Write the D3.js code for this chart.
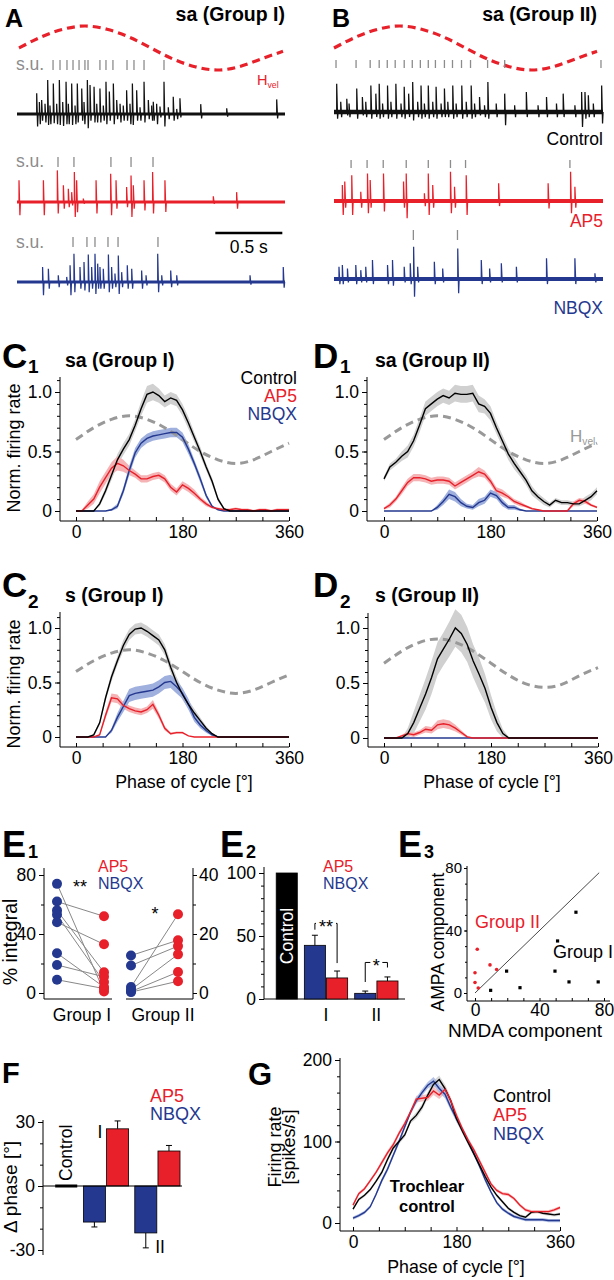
<!DOCTYPE html>
<html><head><meta charset="utf-8">
<script src="https://cdn.jsdelivr.net/npm/d3@7"></script>
<style>
body{margin:0;background:#fff}
svg{display:block}
</style></head><body>
<svg id="fig" width="614" height="1280" font-family="Liberation Sans, Arial, Helvetica, sans-serif"></svg>
<script>
// ================= DATA =================
const phase10 = d3.range(0, 361, 10);
const phase30 = d3.range(0, 361, 30);
const hvel   = [0.6,0.7,0.77,0.8,0.77,0.7,0.6,0.5,0.43,0.4,0.43,0.5,0.57];
const hvelD2 = [0.68,0.79,0.87,0.9,0.87,0.79,0.68,0.57,0.49,0.46,0.49,0.57,0.64];

// Panel A traces (time in s, amplitudes normalised)
const aCtlT  = [0.147,0.184,0.229,0.271,0.316,0.366,0.408,0.45,0.483,0.525,0.545,0.575,0.619,0.664,0.689,0.719,0.744,0.818,0.861,0.893,0.948,0.98,1.017,1.067,1.097,1.166,1.216,1.371,1.565,1.938,0.167,0.209,0.246,0.296,0.341,0.383,0.433,0.5,0.595,0.644,0.769,0.793,0.843,0.918,1.005,1.042,1.129,1.192];
const aCtlUp = [0.61,0.41,1.0,0.9,1.0,0.95,0.9,0.9,0.75,1.0,0.85,0.8,0.75,0.95,0.66,0.9,0.41,0.7,0.9,0.7,0.95,0.41,0.36,0.22,0.95,0.51,0.46,0.29,0.17,0.43,0.35,0.3,0.25,0.3,0.35,0.3,0.25,0.35,0.3,0.25,0.3,0.25,0.3,0.2,0.25,0.3,0.2,0.15];
const aCtlDn = [0.37,0.2,0.32,0.27,0.32,0.3,0.32,0.25,0.2,0.42,0.2,0.25,0.25,0.3,0.2,0.3,0.15,0.2,0.32,0.2,0.25,0.15,0.2,0.1,0.37,0.2,0.1,0.13,0.08,0.13,0.3,0.25,0.3,0.3,0.35,0.3,0.3,0.3,0.25,0.2,0.25,0.2,0.3,0.2,0.2,0.3,0.15,0.15];
const aAp5T  = [0.015,0.197,0.301,0.346,0.383,0.408,0.428,0.445,0.495,0.59,0.699,0.739,0.818,0.851,0.868,0.948,1.012,1.104,1.465,1.639];
const aAp5Up = [0.64,0.64,0.93,0.49,0.39,0.29,0.88,0.64,0.1,0.64,0.83,0.64,0.44,0.78,0.49,0.64,0.88,0.64,0.17,0.29];
const aAp5Dn = [0.39,0.39,0.34,0.2,0.15,0.1,0.44,0.3,0.05,0.34,0.39,0.2,0.15,0.44,0.2,0.25,0.34,0.29,0.05,0.2];
const aNbqT  = [0.191,0.234,0.308,0.371,0.396,0.425,0.47,0.5,0.532,0.557,0.582,0.602,0.619,0.644,0.682,0.706,0.731,0.756,0.781,0.823,0.856,0.93,0.963,1.05,1.08,1.147,1.192,1.739,1.987];
const aNbqUp = [0.44,0.39,0.2,0.15,0.49,0.83,0.44,0.59,0.81,0.44,0.83,0.54,0.44,0.39,0.81,0.44,0.25,0.78,0.29,0.49,0.39,0.34,0.2,0.83,0.2,0.34,0.2,0.2,0.44];
const aNbqDn = [0.39,0.2,0.15,0.1,0.39,0.3,0.2,0.25,0.3,0.2,0.35,0.2,0.2,0.2,0.3,0.2,0.15,0.35,0.15,0.2,0.2,0.2,0.1,0.3,0.1,0.15,0.1,0.08,0.17];
const aCtlSU = [0.269,0.321,0.373,0.418,0.463,0.507,0.530,0.619,0.664,0.716,0.821,0.873,0.948,1.097];
const aAp5SU = [0.306,0.425,0.701,0.851,1.015];
const aNbqSU = [0.418,0.522,0.582,0.679,0.754,1.052];

// Panel B traces
const bCtlT  = [0.02,0.095,0.169,0.211,0.274,0.311,0.336,0.398,0.46,0.522,0.555,0.585,0.647,0.701,0.759,0.821,0.883,0.95,1.02,1.082,1.144,1.269,1.43,1.58,1.704,1.841,1.866,1.891,1.99,0.05,0.112,0.236,0.361,0.423,0.498,0.622,0.672,0.734,0.796,0.846,0.908,0.983,1.045,1.119,1.206,1.343,1.517,1.654,1.791,1.928];
const bCtlUp = [0.83,0.39,0.69,0.44,0.78,0.54,0.83,0.78,0.83,0.74,0.54,0.88,0.78,0.78,0.74,0.69,0.78,0.78,0.78,0.44,0.88,0.54,0.59,0.44,0.54,0.59,0.59,0.49,0.78,0.3,0.25,0.3,0.25,0.3,0.25,0.3,0.25,0.3,0.25,0.3,0.25,0.3,0.25,0.2,0.25,0.2,0.2,0.25,0.2,0.25];
const bCtlDn = [0.2,0.1,0.2,0.1,0.2,0.15,0.2,0.2,0.2,0.2,0.15,0.25,0.2,0.2,0.2,0.15,0.2,0.2,0.2,0.1,0.2,0.39,0.15,0.15,0.15,0.44,0.2,0.15,0.34,0.15,0.15,0.15,0.15,0.15,0.15,0.15,0.15,0.15,0.15,0.15,0.15,0.15,0.15,0.15,0.15,0.15,0.15,0.15,0.15,0.15];
const bAp5T  = [0.062,0.08,0.132,0.199,0.249,0.269,0.368,0.517,0.537,0.672,0.701,0.734,0.866,0.896,0.983,1.224,1.592,1.759,1.791];
const bAp5Up = [0.47,0.57,0.76,0.27,0.81,0.62,0.81,0.57,0.81,0.23,0.81,0.47,0.86,0.42,0.76,0.52,0.52,0.86,0.42];
const bAp5Dn = [0.41,0.2,0.41,0.2,0.36,0.2,0.31,0.2,0.51,0.15,0.41,0.2,0.36,0.2,0.41,0.15,0.22,0.36,0.2];
const bNbqT  = [0.037,0.062,0.1,0.162,0.199,0.236,0.286,0.398,0.435,0.522,0.567,0.592,0.622,0.746,0.808,0.92,1.095,1.157,1.244,1.356,1.58,1.791,1.94];
const bNbqUp = [0.36,0.41,0.31,0.41,0.26,0.36,0.56,0.41,0.56,0.36,0.46,0.95,0.36,0.51,0.31,0.9,0.56,0.31,0.46,0.36,0.61,0.61,0.17];
const bNbqDn = [0.15,0.15,0.1,0.15,0.1,0.1,0.15,0.15,0.2,0.1,0.15,0.52,0.1,0.15,0.1,0.42,0.15,0.1,0.1,0.1,0.15,0.15,0.1];
const bCtlSU = [0.015,0.164,0.269,0.336,0.396,0.455,0.522,0.582,0.642,0.701,0.754,0.821,0.881,0.948,1.015,1.142,1.269,1.985];
const bAp5SU = [0.127,0.246,0.366,0.537,0.701,0.866,0.978,1.754];
const bNbqSU = [0.590,0.918];

// C1 sa (Group I) – normalised firing rate vs phase (0..360 step 10)
const c1Ctl    = [0,0,0,0,0.06,0.17,0.3,0.43,0.52,0.6,0.72,0.86,0.98,1.0,0.97,0.92,0.95,0.93,0.85,0.74,0.62,0.5,0.37,0.25,0.1,0.02,0,0,0,0,0,0,0,0,0,0,0];
const c1CtlSem = [0,0,0,0,0.02,0.03,0.04,0.05,0.05,0.05,0.05,0.06,0.07,0.07,0.06,0.05,0.05,0.05,0.05,0.05,0.04,0.04,0.03,0.03,0.02,0.01,0,0,0,0,0,0,0,0,0,0,0];
const c1Ap5    = [0,0,0.05,0.1,0.2,0.28,0.36,0.4,0.38,0.34,0.31,0.27,0.27,0.29,0.3,0.27,0.2,0.16,0.22,0.19,0.15,0.1,0.06,0.03,0.02,0.01,0.01,0.02,0.01,0.01,0,0.01,0.01,0,0.01,0.01,0.01];
const c1Ap5Sem = [0,0.01,0.03,0.04,0.05,0.05,0.05,0.06,0.05,0.04,0.03,0.03,0.03,0.03,0.03,0.03,0.03,0.03,0.03,0.03,0.03,0.02,0.02,0.01,0.01,0.01,0.01,0.01,0.01,0.01,0.01,0.01,0.01,0.01,0.01,0.01,0.01];
const c1Nbq    = [0,0,0,0,0,0,0.01,0.04,0.17,0.34,0.49,0.57,0.61,0.63,0.64,0.65,0.66,0.66,0.62,0.52,0.4,0.27,0.13,0.04,0.01,0,0,0,0,0,0,0,0,0,0,0,0];
const c1NbqSem = [0,0,0,0,0,0,0.01,0.02,0.03,0.04,0.04,0.04,0.04,0.04,0.04,0.04,0.04,0.04,0.04,0.04,0.03,0.03,0.02,0.01,0,0,0,0,0,0,0,0,0,0,0,0,0];
// D1 sa (Group II)
const d1Ctl    = [0.27,0.37,0.41,0.46,0.5,0.59,0.72,0.86,0.9,0.94,0.97,0.95,0.99,0.98,0.98,0.99,0.9,0.88,0.82,0.7,0.59,0.48,0.4,0.33,0.26,0.17,0.12,0.08,0.05,0.09,0.07,0.07,0.06,0.06,0.09,0.12,0.17];
const d1CtlSem = [0.02,0.03,0.03,0.04,0.05,0.05,0.06,0.06,0.06,0.06,0.06,0.06,0.07,0.07,0.07,0.07,0.07,0.06,0.06,0.05,0.05,0.05,0.05,0.04,0.04,0.04,0.03,0.03,0.02,0.02,0.02,0.02,0.02,0.02,0.03,0.03,0.03];
const d1Ap5    = [0.02,0.05,0.1,0.17,0.24,0.28,0.28,0.27,0.25,0.26,0.26,0.25,0.21,0.24,0.27,0.3,0.33,0.31,0.25,0.17,0.15,0.12,0.08,0.06,0.04,0.02,0.01,0,0,0,0,0,0.06,0.09,0.08,0.05,0.03];
const d1Ap5Sem = [0.01,0.02,0.02,0.03,0.03,0.03,0.03,0.03,0.03,0.03,0.03,0.03,0.03,0.03,0.03,0.03,0.04,0.03,0.03,0.03,0.03,0.02,0.02,0.02,0.01,0.01,0,0,0,0,0,0.01,0.02,0.02,0.02,0.01,0.01];
const d1Nbq    = [0,0,0,0,0,0,0,0,0,0.03,0.08,0.14,0.12,0.07,0.04,0.03,0.07,0.09,0.15,0.13,0.07,0.03,0.03,0.01,0,0,0,0,0,0,0,0,0,0,0,0,0];
const d1NbqSem = [0,0,0,0,0,0,0,0,0,0.02,0.03,0.04,0.04,0.03,0.02,0.02,0.03,0.03,0.03,0.03,0.03,0.02,0.02,0.01,0,0,0,0,0,0,0,0,0,0,0,0,0];
// C2 s (Group I)
const c2Ctl    = [0,0,0,0.02,0.13,0.36,0.55,0.7,0.84,0.94,0.99,1.0,0.97,0.93,0.89,0.8,0.64,0.5,0.39,0.3,0.22,0.15,0.08,0.03,0,0,0,0,0,0,0,0,0,0,0,0,0];
const c2CtlSem = [0,0,0,0.01,0.02,0.03,0.04,0.04,0.05,0.05,0.05,0.05,0.05,0.05,0.05,0.05,0.05,0.05,0.05,0.04,0.04,0.03,0.02,0.01,0,0,0,0,0,0,0,0,0,0,0,0,0];
const c2Ap5    = [0,0,0,0,0.02,0.2,0.36,0.35,0.29,0.26,0.24,0.23,0.25,0.3,0.2,0.08,0.03,0.04,0.04,0.01,0,0,0,0,0,0,0,0,0,0,0,0,0,0,0,0,0];
const c2Ap5Sem = [0,0,0,0,0.01,0.03,0.04,0.04,0.03,0.03,0.03,0.03,0.03,0.04,0.03,0.02,0.01,0.01,0.01,0,0,0,0,0,0,0,0,0,0,0,0,0,0,0,0,0,0];
const c2Nbq    = [0,0,0,0,0,0,0.06,0.18,0.28,0.38,0.4,0.41,0.42,0.43,0.46,0.5,0.51,0.46,0.4,0.3,0.18,0.11,0.06,0.02,0,0,0,0,0,0,0,0,0,0,0,0,0];
const c2NbqSem = [0,0,0,0,0,0,0.02,0.04,0.05,0.06,0.06,0.06,0.06,0.06,0.06,0.06,0.06,0.06,0.05,0.05,0.04,0.03,0.02,0.01,0,0,0,0,0,0,0,0,0,0,0,0,0];
// D2 s (Group II)
const d2Ctl    = [0,0,0,0,0.04,0.14,0.27,0.4,0.55,0.72,0.81,0.9,1.0,0.95,0.85,0.7,0.58,0.45,0.28,0.14,0.04,0,0,0,0,0,0,0,0,0,0,0,0,0,0,0,0];
const d2CtlSem = [0,0,0,0,0.05,0.1,0.12,0.14,0.15,0.15,0.15,0.16,0.17,0.17,0.16,0.15,0.15,0.13,0.11,0.08,0.04,0.01,0,0,0,0,0,0,0,0,0,0,0,0,0,0,0];
const d2Ap5    = [0,0,0,0.02,0.04,0.03,0.05,0.08,0.07,0.12,0.13,0.12,0.09,0.05,0.01,0,0,0,0,0,0,0,0,0,0,0,0,0,0,0,0,0,0,0,0,0,0];
const d2Ap5Sem = [0,0,0,0.01,0.02,0.02,0.02,0.03,0.03,0.04,0.04,0.04,0.03,0.02,0.01,0,0,0,0,0,0,0,0,0,0,0,0,0,0,0,0,0,0,0,0,0,0];
const d2Nbq    = [0,0,0,0,0,0,0,0,0,0,0,0,0,0,0,0,0,0,0,0,0,0,0,0,0,0,0,0,0,0,0,0,0,0,0,0,0];
const d2NbqSem = [0,0,0,0,0,0,0,0,0,0,0,0,0,0,0,0,0,0,0,0,0,0,0,0,0,0,0,0,0,0,0,0,0,0,0,0,0];

// E1 % integral, paired
const e1G1Nbqx = [74,62,56,53,48,27,19,9];
const e1G1Ap5  = [1,52,14,7.5,33,4,11,3];
const e1G2Nbqx = [12.7,9.3,2.0,1.1,0.5,0.3];
const e1G2Ap5  = [17.9,15.9,26.7,13.1,7.1,4.0];
// E2 mean % integral
const e2Groups  = ["Control","I","II"];
const e2Control = 100;
const e2Nbqx    = [42.6, 4.5];
const e2NbqxErr = [8, 1.8];
const e2Ap5     = [16.7, 14.3];
const e2Ap5Err  = [5.5, 3.2];
// E3 scatter
const e3G2Nmda = [1.4,0,0,2,9.3,13.4];
const e3G2Ampa = [28,13,6.7,3.2,18,15];
const e3G1Nmda = [62.6,51.2,19.6,9.7,27.9,49.6,58.3,76.4];
const e3G1Ampa = [51.7,33.3,14,1.7,3.4,14,7.1,7.1];
// F delta phase
const fGroups  = ["Control","I","II"];
const fControl = 0;
const fNbqx    = [-16.9, -22];
const fNbqxErr = [2.3, 7];
const fAp5     = [26.8, 16.4];
const fAp5Err  = [3.7, 2.6];
// G trochlear firing rate (spikes/s)
const gCtl = [17,29,34,41,51,62,78,92,100,108,125,132,142,157,170,176,165,150,128,113,99,85,71,57,44,34,26,18,13,9,7,13,14,12,11,10,11];
const gAp5 = [22,36,42,52,62,74,86,96,110,122,136,152,153,154,162,157,164,150,132,116,102,90,76,62,48,40,36,35,30,22,16,14,14,14,14,16,19];
const gNbq = [6,9,13,20,35,52,66,83,100,118,136,150,160,169,174,165,158,142,128,115,101,86,70,53,38,25,17,12,8,6,4,4,4,4,3,3,3];
const gSem = [2,2,2,2,2,3,3,3,3,3,3,4,4,4,5,5,5,4,4,3,3,3,3,3,2,2,2,2,2,2,2,2,2,2,2,2,2];

// ================= DRAWING =================
const RED = "#e8202a", BLUE = "#24388f", SUGRAY = "#8c8c8c";
const TICKFS = 17.5;
const svg = d3.select("#fig");

function T(x, y, s, fs, o = {}) {
  return svg.append("text").attr("x", x).attr("y", y).attr("font-size", fs)
    .attr("fill", o.fill || "#000").attr("font-weight", o.bold ? "bold" : "normal")
    .attr("text-anchor", o.anchor || "start").text(s);
}
function TR(x, y, s, fs, o = {}) {
  return svg.append("text").attr("transform", `translate(${x},${y}) rotate(-90)`)
    .attr("font-size", fs).attr("fill", o.fill || "#000").attr("text-anchor", "middle")
    .attr("font-weight", o.bold ? "bold" : "normal").text(s);
}
function HV(x, y, fs, fill) {
  const t = svg.append("text").attr("x", x).attr("y", y).attr("font-size", fs).attr("fill", fill);
  t.append("tspan").text("H");
  t.append("tspan").attr("font-size", fs * 0.6).attr("dy", fs * 0.18).text("vel");
}
function L(x1, y1, x2, y2, c = "#000", w = 1) {
  return svg.append("line").attr("x1", x1).attr("y1", y1).attr("x2", x2).attr("y2", y2)
    .attr("stroke", c).attr("stroke-width", w);
}
function styleAx(g, fs) {
  g.attr("font-family", null).attr("font-size", fs);
  g.select(".domain").remove();
  g.selectAll("line").attr("stroke", "#000");
  g.selectAll("text").attr("fill", "#000");
}
function axisY(scale, x, majors, minors, fmt, fs, right = false, majLen = 5, minLen = 3, pad = 3) {
  const A = right ? d3.axisRight : d3.axisLeft;
  const g1 = svg.append("g").attr("transform", `translate(${x},0)`)
    .call(A(scale).tickValues(minors).tickSize(minLen).tickFormat(""));
  const g2 = svg.append("g").attr("transform", `translate(${x},0)`)
    .call(A(scale).tickValues(majors).tickSize(majLen).tickPadding(pad).tickFormat(fmt));
  styleAx(g1, fs); styleAx(g2, fs);
  return g2;
}
function axisX(scale, y, ticks, labels, fs, len = 4, pad = 5) {
  const g = svg.append("g").attr("transform", `translate(0,${y})`)
    .call(d3.axisBottom(scale).tickValues(ticks).tickSize(-len).tickPadding(pad)
      .tickFormat(d => labels.includes(d) ? String(d) : ""));
  styleAx(g, fs);
  return g;
}

// ---------- A / B traces ----------
const xA = d3.scaleLinear().domain([0, 2]).range([17, 285]);
const xB = d3.scaleLinear().domain([0, 2]).range([334, 603]);
const pA = d3.scaleLinear().domain([0, 360]).range([19, 283]);
const pB = d3.scaleLinear().domain([0, 360]).range([334, 597]);
const hY = d3.scaleLinear().domain([0.4, 0.8]).range([70, 26]);

function sinus(px) {
  svg.append("path").datum(hvel)
    .attr("d", d3.line().x((d, i) => px(phase30[i])).y(d => hY(d)).curve(d3.curveNatural))
    .attr("fill", "none").attr("stroke", RED).attr("stroke-width", 3.2).attr("stroke-dasharray", "8,5");
}
function trace(xs, base, ts, up, dn, color, bw) {
  const y = d3.scaleLinear().domain([0, 1]).range([base, base - 34]);
  L(xs.range()[0], base, xs.range()[1], base, color, bw);
  svg.append("g").selectAll("path").data(ts).join("path")
    .attr("d", (t, i) => `M${xs(t)},${y(0)}L${xs(t)},${y(up[i])}L${xs(t) + 0.9},${y(-dn[i])}L${xs(t) + 1.4},${y(0)}`)
    .attr("fill", "none").attr("stroke", color).attr("stroke-width", 1.25);
}
function suTicks(xs, ts, y1, y2) {
  svg.append("g").selectAll("line").data(ts).join("line")
    .attr("x1", d => xs(d)).attr("x2", d => xs(d)).attr("y1", y1).attr("y2", y2)
    .attr("stroke", SUGRAY).attr("stroke-width", 1.3);
}
// A
T(5, 27, "A", 25, { bold: true });
T(285, 21, "sa (Group I)", 19.5, { bold: true, anchor: "end" });
sinus(pA);
HV(257, 85, 14.5, RED);
T(16, 70, "s.u.", 17.5, { fill: SUGRAY });
suTicks(xA, aCtlSU, 60, 70);
trace(xA, 114, aCtlT, aCtlUp, aCtlDn, "#111", 3);
T(16, 167, "s.u.", 17.5, { fill: SUGRAY });
suTicks(xA, aAp5SU, 157, 167);
trace(xA, 202, aAp5T, aAp5Up, aAp5Dn, RED, 3);
T(16, 248, "s.u.", 17.5, { fill: SUGRAY });
suTicks(xA, aNbqSU, 237, 247);
trace(xA, 282, aNbqT, aNbqUp, aNbqDn, BLUE, 3);
L(xA(1.48), 233, xA(1.98), 233, "#000", 2.5);
T(xA(1.73), 253, "0.5 s", 17.5, { anchor: "middle" });
// B
T(332, 27, "B", 25, { bold: true });
T(597, 21, "sa (Group II)", 19.5, { bold: true, anchor: "end" });
sinus(pB);
suTicks(xB, bCtlSU, 60, 68);
trace(xB, 112, bCtlT, bCtlUp, bCtlDn, "#111", 4.5);
T(603, 145, "Control", 17.5, { anchor: "end" });
suTicks(xB, bAp5SU, 160, 168);
trace(xB, 201, bAp5T, bAp5Up, bAp5Dn, RED, 4);
T(603, 227, "AP5", 17.5, { anchor: "end", fill: RED });
suTicks(xB, bNbqSU, 230, 240);
trace(xB, 279, bNbqT, bNbqUp, bNbqDn, BLUE, 4);
T(603, 314, "NBQX", 17.5, { anchor: "end", fill: BLUE });

// ---------- C/D rate panels ----------
function ratePanel(p) {
  const x = d3.scaleLinear().domain([0, 360]).range(p.xr);
  const y = d3.scaleLinear().domain([0, 1]).range([p.y0, p.y1]);
  const g = svg.append("g");
  p.series.forEach(s => {
    g.append("path").datum(s.v)
      .attr("d", d3.area().x((d, i) => x(phase10[i]))
        .y0((d, i) => y(Math.max(0, d - s.sem[i]))).y1((d, i) => y(d + s.sem[i])))
      .attr("fill", s.band);
  });
  g.append("path").datum(p.hv)
    .attr("d", d3.line().x((d, i) => x(phase30[i])).y(d => y(d)).curve(d3.curveNatural))
    .attr("fill", "none").attr("stroke", "#999").attr("stroke-width", 3).attr("stroke-dasharray", "8,5");
  p.series.slice().reverse().forEach(s => {
    g.append("path").datum(s.v)
      .attr("d", d3.line().x((d, i) => x(phase10[i])).y(d => y(d)))
      .attr("fill", "none").attr("stroke", s.c).attr("stroke-width", 1.4);
  });
  L(p.ax, p.axB, p.ax, p.axT);
  L(p.ax, p.axB, p.xr[1], p.axB);
  axisY(y, p.ax, [0, 0.5, 1], d3.range(0, 1.101, 0.1), d => d === 0 ? "0" : d3.format(".1f")(d), TICKFS);
  axisX(x, p.axB, d3.range(0, 361, 45), [0, 180, 360], TICKFS);
}
const ctlBand = "#d0d0d0", ap5Band = "#f5b3b5", nbqBand = "#9fb0de";
function ser(v, sem, c, band) { return { v, sem, c, band }; }

ratePanel({ xr: [76, 289], y0: 511, y1: 392, ax: 60, axB: 521, axT: 377, hv: hvel,
  series: [ser(c1Ctl, c1CtlSem, "#000", ctlBand), ser(c1Ap5, c1Ap5Sem, RED, ap5Band), ser(c1Nbq, c1NbqSem, BLUE, nbqBand)] });
ratePanel({ xr: [384, 597], y0: 511, y1: 392, ax: 367, axB: 521, axT: 377, hv: hvel,
  series: [ser(d1Ctl, d1CtlSem, "#000", ctlBand), ser(d1Ap5, d1Ap5Sem, RED, ap5Band), ser(d1Nbq, d1NbqSem, BLUE, nbqBand)] });
ratePanel({ xr: [76, 289], y0: 737, y1: 628, ax: 60, axB: 747, axT: 612, hv: hvel,
  series: [ser(c2Ctl, c2CtlSem, "#000", ctlBand), ser(c2Ap5, c2Ap5Sem, RED, ap5Band), ser(c2Nbq, c2NbqSem, BLUE, nbqBand)] });
ratePanel({ xr: [384, 598], y0: 738, y1: 628, ax: 368, axB: 747, axT: 613, hv: hvelD2,
  series: [ser(d2Ctl, d2CtlSem, "#000", ctlBand), ser(d2Ap5, d2Ap5Sem, RED, ap5Band), ser(d2Nbq, d2NbqSem, BLUE, nbqBand)] });

T(2, 368, "C", 35, { bold: true }); T(28, 373, "1", 19, { bold: true });
T(65, 367, "sa (Group I)", 19.5, { bold: true });
T(297, 384, "Control", 17.5, { anchor: "end" });
T(297, 402, "AP5", 17.5, { anchor: "end", fill: RED });
T(297, 420, "NBQX", 17.5, { anchor: "end", fill: BLUE });
TR(20, 448, "Norm. firing rate", 18);
T(313, 368, "D", 35, { bold: true }); T(340, 373, "1", 19, { bold: true });
T(375, 367, "sa (Group II)", 19.5, { bold: true });
HV(570, 442, 17, "#999");
T(2, 597, "C", 35, { bold: true }); T(28, 608, "2", 19, { bold: true });
T(65, 602, "s (Group I)", 19.5, { bold: true });
TR(20, 684, "Norm. firing rate", 18);
T(184, 788, "Phase of cycle [°]", 17.8, { anchor: "middle" });
T(313, 597, "D", 35, { bold: true }); T(340, 608, "2", 19, { bold: true });
T(375, 602, "s (Group II)", 19.5, { bold: true });
T(492, 788, "Phase of cycle [°]", 17.8, { anchor: "middle" });

// ---------- E1 ----------
{
  const yL = d3.scaleLinear().domain([0, 80]).range([993, 875]);
  const yR = d3.scaleLinear().domain([0, 40]).range([993, 875]);
  const x1 = d3.scalePoint().domain(["NBQX", "AP5"]).range([57, 104]);
  const x2 = d3.scalePoint().domain(["NBQX", "AP5"]).range([131, 178]);
  L(44, 868, 44, 999); L(44, 999, 112, 999);
  L(193, 868, 193, 999); L(126, 999, 193, 999);
  axisY(yL, 44, [0, 40, 80], [20, 60], d => d, TICKFS);
  axisY(yR, 193, [0, 20, 40], [10, 30], d => d, TICKFS, true, 4, 3, 2);
  const gl = svg.append("g");
  e1G1Nbqx.forEach((v, i) => gl.append("line").attr("x1", x1("NBQX")).attr("y1", yL(v)).attr("x2", x1("AP5")).attr("y2", yL(e1G1Ap5[i])));
  e1G2Nbqx.forEach((v, i) => gl.append("line").attr("x1", x2("NBQX")).attr("y1", yR(v)).attr("x2", x2("AP5")).attr("y2", yR(e1G2Ap5[i])));
  gl.selectAll("line").attr("stroke", "#888").attr("stroke-width", 1);
  const dot = (cx, cy, c) => svg.append("circle").attr("cx", cx).attr("cy", cy).attr("r", 5).attr("fill", c);
  e1G1Nbqx.forEach(v => dot(x1("NBQX"), yL(v), BLUE));
  e1G1Ap5.forEach(v => dot(x1("AP5"), yL(v), RED));
  e1G2Nbqx.forEach(v => dot(x2("NBQX"), yR(v), BLUE));
  e1G2Ap5.forEach(v => dot(x2("AP5"), yR(v), RED));
  T(2, 857, "E", 36, { bold: true }); T(28, 858, "1", 18, { bold: true });
  T(98, 872, "AP5", 16, { fill: RED });
  T(98, 889, "NBQX", 16, { fill: BLUE });
  T(80, 893, "**", 18, { anchor: "middle" });
  T(155, 920, "*", 18, { anchor: "middle" });
  TR(17, 942, "% integral", 19.5);
  T(82, 1021, "Group I", 17.5, { anchor: "middle" });
  T(163, 1021, "Group II", 17.5, { anchor: "middle" });
}

// ---------- E2 ----------
{
  const y = d3.scaleLinear().domain([0, 100]).range([999, 873]);
  const xb = d3.scaleBand().domain(e2Groups).range([254, 398]).paddingInner(0.14);
  const xs = d3.scaleBand().domain(["NBQX", "AP5"]).range([0, xb.bandwidth()]).paddingInner(0.05);
  L(264, 867, 264, 999); L(264, 999, 405, 999);
  axisY(y, 264, [0, 50, 100], d3.range(0, 101, 10), d => d, TICKFS);
  const bar = (x, v, c) => svg.append("rect").attr("x", x).attr("y", y(v)).attr("width", xs.bandwidth())
    .attr("height", y(0) - y(v)).attr("fill", c).attr("stroke", "#000").attr("stroke-width", 0.8);
  const err = (x, v, e) => { const cx = x + xs.bandwidth() / 2; L(cx, y(v), cx, y(v + e)); L(cx - 3, y(v + e), cx + 3, y(v + e)); };
  bar(xb("Control") + xs("AP5"), e2Control, "#000");
  ["I", "II"].forEach((g, i) => {
    err(xb(g) + xs("NBQX"), e2Nbqx[i], e2NbqxErr[i]);
    err(xb(g) + xs("AP5"), e2Ap5[i], e2Ap5Err[i]);
    bar(xb(g) + xs("NBQX"), e2Nbqx[i], BLUE);
    bar(xb(g) + xs("AP5"), e2Ap5[i], RED);
  });
  const cI = xb("Control") + xs("AP5") + xs.bandwidth() / 2;
  svg.append("text").attr("transform", `translate(${cI + 6},${y(50)}) rotate(-90)`).attr("text-anchor", "middle")
    .attr("font-size", 17.5).attr("fill", "#fff").text("Control");
  const bx = (g, s) => xb(g) + xs(s) + xs.bandwidth() / 2;
  const bracket = (g, top, lb, rb, stars) => {
    const a = bx(g, "NBQX"), b = bx(g, "AP5"), m = (a + b) / 2;
    const half = stars.length * 4 + 2;
    svg.append("path").attr("d", `M${a},${y(lb)}V${y(top)}H${m - half}M${m + half},${y(top)}H${b}V${y(rb)}`)
      .attr("fill", "none").attr("stroke", "#000").attr("stroke-width", 1);
    T(m, y(top) + 10, stars, 18, { anchor: "middle" });
  };
  bracket("I", 60, 55, 28.5, "**");
  bracket("II", 29, 13.5, 25, "*");
  T(220, 857, "E", 36, { bold: true }); T(246, 858, "2", 18, { bold: true });
  T(323, 872, "AP5", 16, { fill: RED });
  T(323, 889, "NBQX", 16, { fill: BLUE });
  T(bx("I", "NBQX") + 11, 1021, "I", 17.5, { anchor: "middle" });
  T(bx("II", "NBQX") + 11, 1021, "II", 17.5, { anchor: "middle" });
}

// ---------- E3 ----------
{
  const x = d3.scaleLinear().domain([0, 80]).range([475, 604]);
  const y = d3.scaleLinear().domain([0, 80]).range([993, 868]);
  L(467, 866, 467, 1001); L(467, 1001, 610, 1001);
  axisY(y, 467, [0, 40, 80], d3.range(0, 81, 10), d => d, 15, false, 3, 2, 2);
  axisX(x, 1001, d3.range(0, 81, 10), [0, 40, 80], TICKFS, 3, 3);
  L(x(0), y(0), x(77), y(77), "#333", 0.9);
  svg.append("g").selectAll("circle").data(e3G2Nmda).join("circle")
    .attr("cx", d => x(d)).attr("cy", (d, i) => y(e3G2Ampa[i])).attr("r", 1.8).attr("fill", RED);
  svg.append("g").selectAll("rect").data(e3G1Nmda).join("rect")
    .attr("x", d => x(d) - 1.6).attr("y", (d, i) => y(e3G1Ampa[i]) - 1.6).attr("width", 3.2).attr("height", 3.2).attr("fill", "#000");
  T(398, 857, "E", 36, { bold: true }); T(424, 858, "3", 18, { bold: true });
  T(475, 928, "Group II", 18, { fill: RED });
  T(553, 958, "Group I", 18);
  TR(444, 942, "AMPA component", 17.5);
  T(525, 1037, "NMDA component", 19, { anchor: "middle" });
}

// ---------- F ----------
{
  const y = d3.scaleLinear().domain([-30, 30]).range([1250, 1122]);
  const xb = d3.scaleBand().domain(fGroups).range([32, 180]).paddingInner(0.12);
  const xs = d3.scaleBand().domain(["NBQX", "AP5"]).range([0, xb.bandwidth()]).paddingInner(0.05);
  L(43, 1120, 43, 1255);
  axisY(y, 43, [-30, 0, 30], [-20, -10, 10, 20], d => d, TICKFS);
  const bar = (x, v, c) => svg.append("rect").attr("x", x).attr("y", y(Math.max(0, v))).attr("width", xs.bandwidth())
    .attr("height", Math.abs(y(0) - y(v))).attr("fill", c).attr("stroke", "#000").attr("stroke-width", 0.8);
  const err = (x, v, e) => { const cx = x + xs.bandwidth() / 2, ve = v + Math.sign(v) * e; L(cx, y(v), cx, y(ve)); L(cx - 3, y(ve), cx + 3, y(ve)); };
  ["I", "II"].forEach((g, i) => {
    err(xb(g) + xs("NBQX"), fNbqx[i], fNbqxErr[i]);
    err(xb(g) + xs("AP5"), fAp5[i], fAp5Err[i]);
    bar(xb(g) + xs("NBQX"), fNbqx[i], BLUE);
    bar(xb(g) + xs("AP5"), fAp5[i], RED);
  });
  L(43, y(0), 182, y(0));
  const cx0 = xb("Control") + xs("AP5");
  svg.append("rect").attr("x", cx0).attr("y", y(fControl) - 1.5).attr("width", xs.bandwidth()).attr("height", 3).attr("fill", "#000");
  svg.append("text").attr("transform", `translate(${cx0 + xs.bandwidth() / 2 + 6},${y(0) - 5}) rotate(-90)`)
    .attr("font-size", 17.5).text("Control");
  T(100, 1138, "I", 17.5, { anchor: "middle" });
  T(160, 1253, "II", 17.5, { anchor: "middle" });
  T(2, 1083, "F", 29, { bold: true });
  T(150, 1102, "AP5", 18, { fill: RED });
  T(150, 1120, "NBQX", 18, { fill: BLUE });
  TR(17, 1187, "Δ phase [°]", 19);
}

// ---------- G ----------
{
  const x = d3.scaleLinear().domain([0, 360]).range([353, 560]);
  const y = d3.scaleLinear().domain([0, 200]).range([1223, 1060]);
  const sers = [[gCtl, "#000", ctlBand], [gAp5, RED, ap5Band], [gNbq, BLUE, nbqBand]];
  sers.forEach(([v, c, b]) => svg.append("path").datum(v)
    .attr("d", d3.area().x((d, i) => x(phase10[i])).y0((d, i) => y(d - gSem[i])).y1((d, i) => y(d + gSem[i])))
    .attr("fill", b).attr("opacity", 0.8));
  [sers[2], sers[0], sers[1]].forEach(([v, c]) => svg.append("path").datum(v)
    .attr("d", d3.line().x((d, i) => x(phase10[i])).y(d => y(d)))
    .attr("fill", "none").attr("stroke", c).attr("stroke-width", 1.4));
  L(340, 1058, 340, 1231); L(340, 1231, 560, 1231);
  axisY(y, 340, [0, 100, 200], d3.range(0, 201, 20), d => d, TICKFS);
  axisX(x, 1231, d3.range(0, 361, 45), [0, 180, 360], TICKFS);
  T(248, 1085, "G", 31, { bold: true });
  T(493, 1102, "Control", 18);
  T(493, 1121, "AP5", 18, { fill: RED });
  T(493, 1140, "NBQX", 18, { fill: BLUE });
  T(427, 1192, "Trochlear", 16.5, { bold: true, anchor: "middle" });
  T(427, 1212, "control", 16.5, { bold: true, anchor: "middle" });
  TR(281, 1147, "Firing rate", 18);
  TR(295, 1147, "[spikes/s]", 18);
  T(456, 1273, "Phase of cycle [°]", 17.8, { anchor: "middle" });
}
</script>
</body></html>
